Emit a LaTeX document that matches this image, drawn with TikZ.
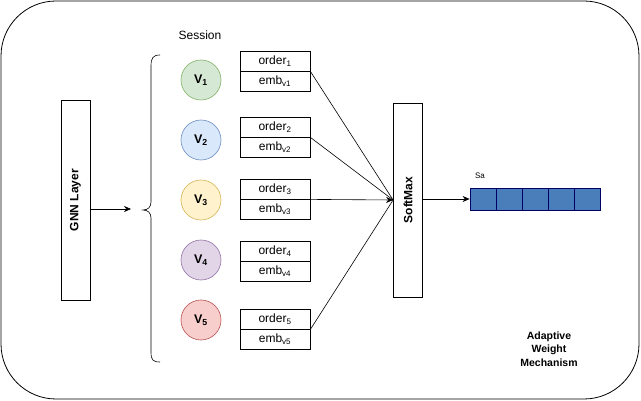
\documentclass[tikz,border=0pt]{standalone}
\usepackage{fontspec}
\setmainfont{Liberation Sans}
\usetikzlibrary{arrows.meta}
\definecolor{gfill}{HTML}{D5E8D4}\definecolor{gdraw}{HTML}{82B366}
\definecolor{bfill}{HTML}{DAE8FC}\definecolor{bdraw}{HTML}{6C8EBF}
\definecolor{yfill}{HTML}{FFF2CC}\definecolor{ydraw}{HTML}{D6B656}
\definecolor{pfill}{HTML}{E1D5E7}\definecolor{pdraw}{HTML}{9673A6}
\definecolor{rfill}{HTML}{F8CECC}\definecolor{rdraw}{HTML}{B85450}
\definecolor{cellfill}{RGB}{74,126,187}\definecolor{celldraw}{RGB}{0,0,102}
\begin{document}
\begin{tikzpicture}[x=1pt,y=-1pt,
  txt/.style={font=\fontsize{12}{14}\selectfont, inner sep=0pt},
  layerbox/.style={draw=black, line width=0.8pt, minimum width=29pt, inner sep=0pt},
  vnode/.style={circle, minimum size=40pt, inner sep=0pt, line width=0.6pt, font=\fontsize{12.5}{14}\selectfont\bfseries},
  cellbox/.style={draw=black, line width=0.8pt, minimum width=70pt, minimum height=20pt, inner sep=0pt, font=\fontsize{12}{14}\selectfont},
  arrcell/.style={draw=celldraw, fill=cellfill, line width=0.8pt, minimum width=26pt, minimum height=22pt, inner sep=0pt},
  arr/.style={-{Stealth[length=7pt,width=6pt]}, line width=0.6pt},
  conn/.style={line width=0.6pt}]
\useasboundingbox (0,0) rectangle (641,401);
\draw[line width=0.8pt, rounded corners=55pt] (1,1) rectangle (639,399);

% GNN layer
\node[layerbox, minimum height=200pt] (gnn) at (75.5,200) {};
\node[rotate=90, font=\fontsize{12}{14}\selectfont\bfseries] at (gnn.center) {GNN Layer};
\coordinate (bt) at (131,209);
\draw[arr] (gnn.east |- bt) -- (bt);

% brace
\draw[line width=0.6pt] (160,55) .. controls (153,55) and (151,58) .. (151,66) -- (151,202)
  .. controls (151,207) and (148,210) .. (143,210)
  .. controls (148,210) and (151,213) .. (151,218) -- (151,352)
  .. controls (151,360) and (153,362) .. (160,362);

\node[txt] (sess) at (200,35) {Session};

% session items
\node[vnode, fill=gfill, draw=gdraw] (v1) at (201,80) {V\textsubscript{1}};
\node[vnode, fill=bfill, draw=bdraw] (v2) at (201,140) {V\textsubscript{2}};
\node[vnode, fill=yfill, draw=ydraw] (v3) at (201,200) {V\textsubscript{3}};
\node[vnode, fill=pfill, draw=pdraw] (v4) at (201,260) {V\textsubscript{4}};
\node[vnode, fill=rfill, draw=rdraw] (v5) at (201,320) {V\textsubscript{5}};

\node[cellbox] (o1) at (275,61) {order\textsubscript{1}};
\node[cellbox] (e1) at (275,81) {emb\textsubscript{v1}};
\node[cellbox] (o2) at (275,127) {order\textsubscript{2}};
\node[cellbox] (e2) at (275,147) {emb\textsubscript{v2}};
\node[cellbox] (o3) at (275,189) {order\textsubscript{3}};
\node[cellbox] (e3) at (275,209) {emb\textsubscript{v3}};
\node[cellbox] (o4) at (275,251) {order\textsubscript{4}};
\node[cellbox] (e4) at (275,271) {emb\textsubscript{v4}};
\node[cellbox] (o5) at (275,319) {order\textsubscript{5}};
\node[cellbox] (e5) at (275,339) {emb\textsubscript{v5}};

% softmax
\node[layerbox, minimum height=194pt] (sm) at (408,200) {};
\node[rotate=90, font=\fontsize{12}{14}\selectfont\bfseries] at (sm.center) {SoftMax};

\draw[conn] (o1.south east) -- (sm.west);
\draw[conn] (o2.south east) -- (sm.west);
\draw[arr] (o3.south east) -- (sm.west);
\draw[conn] (o5.south east) -- (sm.west);

% output array
\node[arrcell] (a1) at (483,199) {};
\node[arrcell] (a2) at (509,199) {};
\node[arrcell] (a3) at (535,199) {};
\node[arrcell] (a4) at (561,199) {};
\node[arrcell] (a5) at (587,199) {};
\node[font=\fontsize{8}{9}\selectfont, inner sep=0pt] (sa) at (480,176) {Sa};
\draw[arr] (sm.east |- a1.west) -- (a1.west);

\node[align=center, inner sep=0pt, font=\fontsize{10.5}{13.5}\selectfont\bfseries] (awm) at (549,349) {Adaptive\\Weight\\Mechanism};
\end{tikzpicture}
\end{document}
